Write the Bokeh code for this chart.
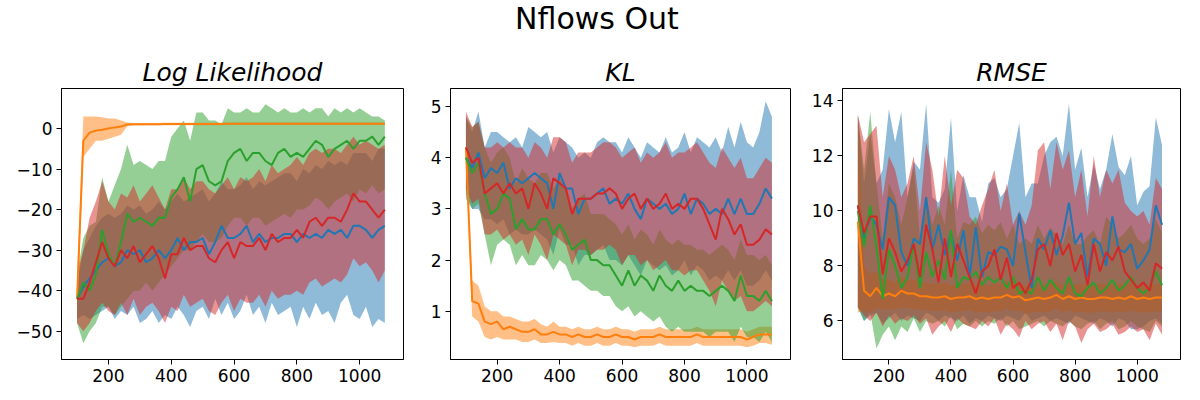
from bokeh.plotting import figure
from bokeh.models import Range1d, FixedTicker, Div
from bokeh.layouts import column, row
from bokeh.embed import file_html
from bokeh.resources import INLINE

# ---------------- data ----------------
x = [100, 120, 140, 160, 180, 200, 220, 240, 260, 280, 300, 320, 340, 360, 380,
     400, 420, 440, 460, 480, 500, 520, 540, 560, 580, 600, 620, 640, 660, 680,
     700, 720, 740, 760, 780, 800, 820, 840, 860, 880, 900, 920, 940, 960, 980,
     1000, 1020, 1040, 1060, 1080]

series_names = ["blue", "orange", "green", "red"]
series_colors = ["#1f77b4", "#ff7f0e", "#2ca02c", "#d62728"]

# Log Likelihood
ll_blue_mean = [-42, -39, -37, -35, -33, -32, -34, -33, -30, -31, -30, -33, -32, -30, -32, -30, -27, -30, -28, -28,
                -27, -31, -28, -24, -27, -27, -26, -24, -28, -26, -28, -27, -27, -26, -26, -28, -26, -27, -26, -27,
                -25, -26, -25, -27, -24, -24, -25, -27, -25, -24]
ll_blue_lo = [-47, -46, -47, -46, -45, -44, -47, -45, -46, -44, -48, -47, -45, -48, -46, -47, -44, -46, -49, -45,
              -44, -47, -42, -46, -43, -47, -45, -41, -46, -44, -48, -43, -46, -45, -44, -49, -44, -47, -43, -46,
              -45, -48, -43, -41, -46, -47, -44, -49, -47, -48]
ll_blue_hi = [-38, -30, -27, -24, -22, -21, -22, -21, -19, -20, -19, -21, -20, -18, -20, -18, -16, -18, -17, -16,
              -15, -18, -16, -13, -15, -15, -14, -12, -15, -13, -14, -13, -12, -11, -11, -13, -10, -11, -9, -10,
              -8, -9, -8, -9, -6, -6, -6, -8, -5, -5]
ll_orange_mean = [-42, -3, -1, -0.5, -0.3, 0, 0.3, 0.5, 1.0, 1.1, 1.1, 1.1, 1.1, 1.1, 1.15, 1.15, 1.15, 1.15, 1.15, 1.15,
                  1.15, 1.15, 1.15, 1.15, 1.2, 1.2, 1.2, 1.2, 1.2, 1.2, 1.2, 1.2, 1.2, 1.2, 1.2, 1.2, 1.2, 1.2, 1.2, 1.2,
                  1.2, 1.2, 1.2, 1.2, 1.2, 1.2, 1.2, 1.2, 1.2, 1.2]
ll_orange_lo = [-48, -7, -5, -3, -3, -2.5, -2, -1.5, 0.6, 0.8, 0.8, 0.8, 0.8, 0.8, 0.85, 0.85, 0.85, 0.85, 0.85, 0.85,
                0.85, 0.85, 0.85, 0.85, 0.9, 0.9, 0.9, 0.9, 0.9, 0.9, 0.9, 0.9, 0.9, 0.9, 0.9, 0.9, 0.9, 0.9, 0.9, 0.9,
                0.9, 0.9, 0.9, 0.9, 0.9, 0.9, 0.9, 0.9, 0.9, 0.9]
ll_orange_hi = [-36, 3, 3, 3, 2.8, 2.5, 2.5, 2.0, 1.5, 1.4, 1.4, 1.4, 1.4, 1.4, 1.45, 1.45, 1.45, 1.45, 1.45, 1.45,
                1.45, 1.45, 1.45, 1.45, 1.5, 1.5, 1.5, 1.5, 1.5, 1.5, 1.5, 1.5, 1.5, 1.5, 1.5, 1.5, 1.5, 1.5, 1.5, 1.5,
                1.5, 1.5, 1.5, 1.5, 1.5, 1.5, 1.5, 1.5, 1.5, 1.5]
ll_green_mean = [-42, -38, -40, -36, -25, -31, -34, -28, -21, -23, -22, -23, -24, -22, -22, -17, -15, -12, -18, -10,
                 -9, -13, -14, -13, -8, -6, -5, -8, -6, -6, -8, -9, -6, -5, -7, -6, -7, -5, -3, -4,
                 -7, -5, -4, -3, -5, -3, -3, -2, -4, -2]
ll_green_lo = [-48, -53, -50, -48, -44, -44, -46, -44, -42, -40, -40, -38, -40, -38, -36, -34, -32, -30, -30, -28,
               -26, -28, -28, -27, -24, -22, -22, -24, -22, -22, -24, -23, -22, -21, -22, -20, -20, -19, -17, -18,
               -20, -18, -17, -16, -18, -15, -16, -14, -16, -15]
ll_green_hi = [-36, -27, -24, -23, -12, -18, -14, -10, -4, -9, -8, -9, -10, -8, -8, -2, 0, 2, -3, 4,
               4, 2, 2, 1, 5, 4, 4, 5, 4, 4, 6, 5, 4, 5, 4, 4, 5, 4, 5, 5,
               3, 5, 4, 5, 4, 5, 4, 3, 3, 2]
ll_red_mean = [-42, -42, -38, -33, -28, -32, -34, -30, -32, -29, -33, -31, -29, -32, -37, -31, -31, -27, -30, -29,
               -29, -32, -33, -30, -28, -32, -28, -29, -29, -27, -30, -26, -28, -27, -27, -25, -27, -23, -22, -24,
               -22, -22, -23, -20, -16, -18, -18, -20, -22, -20]
ll_red_lo = [-48, -50, -48, -45, -43, -45, -46, -43, -46, -42, -46, -44, -43, -45, -48, -44, -45, -41, -44, -43,
             -42, -45, -46, -43, -41, -45, -42, -43, -43, -41, -44, -40, -42, -41, -41, -40, -41, -38, -37, -39,
             -38, -37, -38, -36, -32, -34, -33, -35, -38, -35]
ll_red_hi = [-36, -30, -22, -18, -13, -18, -20, -16, -17, -14, -18, -16, -14, -17, -20, -15, -15, -12, -15, -13,
             -13, -15, -16, -14, -12, -15, -12, -13, -12, -10, -13, -9, -11, -10, -9, -7, -9, -6, -5, -6,
             -5, -5, -6, -4, -2, -4, -3, -4, -5, -4]

# KL
kl_blue_mean = [4.0, 3.8, 4.1, 3.6, 3.8, 3.7, 3.9, 3.4, 3.6, 3.5, 3.6, 3.7, 3.6, 3.5, 3.0, 3.7, 3.4, 3.4, 2.9, 3.2,
                3.2, 3.3, 3.4, 3.1, 3.2, 3.1, 3.3, 3.0, 2.8, 3.2, 3.1, 3.0, 3.1, 2.9, 3.0, 3.3, 2.9, 3.2, 3.1, 2.9,
                3.0, 2.9, 3.2, 2.9, 3.2, 2.9, 2.9, 3.1, 3.4, 3.2]
kl_blue_lo = [3.2, 3.0, 3.0, 2.8, 2.8, 2.7, 2.8, 2.5, 2.6, 2.5, 2.5, 2.6, 2.5, 2.4, 2.1, 2.6, 2.3, 2.3, 1.9, 2.1,
              2.1, 2.2, 2.3, 2.0, 2.0, 1.9, 2.1, 1.9, 1.7, 2.0, 1.9, 1.8, 1.9, 1.7, 1.8, 2.0, 1.7, 1.9, 1.8, 1.6,
              1.7, 1.6, 1.8, 1.6, 1.8, 1.5, 1.5, 1.6, 1.8, 1.6]
kl_blue_hi = [4.8, 4.5, 4.9, 4.2, 4.5, 4.5, 4.4, 4.3, 4.4, 4.2, 4.6, 4.5, 4.4, 4.5, 4.1, 4.4, 4.3, 4.2, 4.0, 4.1,
              4.0, 4.3, 4.4, 4.3, 4.3, 4.1, 4.4, 4.2, 4.0, 4.3, 4.2, 4.1, 4.4, 4.1, 4.2, 4.5, 4.1, 4.4, 4.3, 4.2,
              4.4, 4.1, 4.6, 4.2, 4.7, 4.3, 4.2, 4.5, 5.1, 4.8]
kl_orange_mean = [4.2, 1.2, 1.15, 0.8, 0.75, 0.8, 0.65, 0.7, 0.65, 0.6, 0.6, 0.65, 0.55, 0.55, 0.6, 0.55, 0.55, 0.5, 0.55, 0.5,
                  0.5, 0.55, 0.5, 0.5, 0.55, 0.5, 0.5, 0.45, 0.5, 0.5, 0.5, 0.55, 0.5, 0.5, 0.5, 0.5, 0.5, 0.55, 0.5, 0.5,
                  0.5, 0.5, 0.5, 0.5, 0.5, 0.45, 0.5, 0.55, 0.55, 0.55]
kl_orange_lo = [3.8, 0.9, 0.8, 0.5, 0.45, 0.5, 0.45, 0.45, 0.45, 0.4, 0.4, 0.45, 0.38, 0.38, 0.4, 0.38, 0.38, 0.33, 0.38, 0.33,
                0.33, 0.38, 0.33, 0.33, 0.38, 0.33, 0.33, 0.3, 0.33, 0.33, 0.33, 0.38, 0.33, 0.33, 0.33, 0.33, 0.33, 0.38, 0.33, 0.33,
                0.33, 0.33, 0.33, 0.33, 0.33, 0.3, 0.33, 0.38, 0.38, 0.35]
kl_orange_hi = [4.6, 1.6, 1.5, 1.1, 1.0, 1.0, 0.9, 0.9, 0.85, 0.8, 0.8, 0.85, 0.75, 0.7, 0.8, 0.7, 0.7, 0.65, 0.7, 0.65,
                0.65, 0.7, 0.65, 0.65, 0.7, 0.65, 0.65, 0.6, 0.65, 0.65, 0.65, 0.7, 0.65, 0.65, 0.65, 0.65, 0.65, 0.7, 0.65, 0.65,
                0.65, 0.65, 0.65, 0.65, 0.65, 0.6, 0.65, 0.7, 0.7, 0.7]
kl_green_mean = [4.0, 3.7, 3.9, 3.3, 2.9, 3.0, 3.3, 3.2, 2.6, 2.8, 2.6, 2.6, 2.8, 2.8, 2.5, 2.7, 2.5, 2.2, 2.3, 2.4,
                 2.0, 2.0, 1.9, 1.9, 1.7, 1.5, 1.8, 1.5, 1.7, 1.6, 1.4, 1.7, 1.5, 1.4, 1.6, 1.4, 1.5, 1.4, 1.4, 1.3,
                 1.4, 1.5, 1.4, 1.2, 1.7, 1.3, 1.3, 1.2, 1.4, 1.2]
kl_green_lo = [3.3, 3.0, 3.1, 2.5, 1.9, 2.3, 2.4, 2.3, 1.9, 2.1, 1.9, 1.9, 2.1, 2.0, 1.8, 2.0, 1.9, 1.6, 1.6, 1.5,
               1.4, 1.4, 1.3, 1.3, 1.1, 1.0, 1.1, 0.9, 1.0, 0.9, 0.8, 0.9, 0.7, 0.6, 0.7, 0.6, 0.6, 0.6, 0.6, 0.5,
               0.6, 0.6, 0.6, 0.4, 0.7, 0.5, 0.5, 0.4, 0.6, 0.4]
kl_green_hi = [4.8, 4.6, 4.7, 4.2, 3.9, 4.1, 4.2, 4.0, 3.5, 3.8, 3.6, 3.5, 3.7, 3.7, 3.4, 3.6, 3.4, 3.0, 3.2, 3.3,
               2.9, 2.9, 2.9, 2.8, 2.7, 2.5, 2.7, 2.4, 2.6, 2.5, 2.3, 2.6, 2.4, 2.3, 2.4, 2.3, 2.3, 2.2, 2.2, 2.1,
               2.2, 2.3, 2.2, 2.0, 2.4, 2.1, 2.1, 2.0, 2.1, 1.9]
kl_red_mean = [4.2, 3.9, 4.0, 3.3, 3.4, 3.5, 3.3, 3.5, 3.3, 3.4, 3.0, 3.5, 3.3, 3.0, 3.6, 3.5, 3.4, 2.9, 3.2, 3.2,
               3.2, 3.3, 3.3, 3.4, 3.3, 3.0, 3.2, 3.3, 3.0, 3.2, 3.0, 3.1, 3.3, 3.0, 3.1, 3.0, 3.2, 3.2, 3.0, 2.7,
               2.4, 3.0, 2.8, 2.5, 2.7, 2.3, 2.3, 2.4, 2.6, 2.5]
kl_red_lo = [3.4, 3.1, 3.2, 2.5, 2.5, 2.6, 2.4, 2.5, 2.3, 2.4, 2.1, 2.5, 2.3, 2.0, 2.5, 2.4, 2.3, 1.9, 2.2, 2.2,
             2.1, 2.2, 2.2, 2.3, 2.2, 1.9, 2.1, 2.1, 1.9, 2.0, 1.8, 1.9, 2.0, 1.8, 1.8, 1.7, 1.8, 1.8, 1.6, 1.4,
             1.1, 1.6, 1.4, 1.2, 1.3, 1.0, 1.0, 1.1, 1.2, 1.1]
kl_red_hi = [4.9, 4.6, 4.7, 4.2, 4.2, 4.3, 4.2, 4.3, 4.2, 4.2, 4.0, 4.3, 4.2, 4.0, 4.4, 4.4, 4.3, 3.9, 4.1, 4.1,
             4.1, 4.2, 4.3, 4.3, 4.2, 4.0, 4.1, 4.2, 3.9, 4.1, 4.0, 4.1, 4.3, 4.0, 4.1, 4.1, 4.2, 4.3, 4.1, 3.9,
             3.8, 4.2, 4.0, 3.8, 4.0, 3.6, 3.6, 3.8, 4.0, 3.9]

# RMSE
rm_blue_mean = [10.2, 9.0, 9.8, 9.5, 8.6, 10.5, 10.2, 8.5, 8.0, 9.0, 8.8, 10.5, 8.6, 9.5, 8.4, 9.2, 8.2, 9.3, 7.6, 9.4,
                7.6, 8.5, 8.4, 8.7, 8.6, 8.0, 9.9, 8.5, 7.2, 9.0, 8.6, 9.3, 8.4, 9.1, 10.3, 8.8, 9.2, 7.6, 9.0, 8.8,
                8.0, 9.8, 8.6, 8.5, 8.8, 7.9, 8.2, 8.6, 10.2, 9.5]
rm_blue_lo = [6.5, 6.0, 6.2, 6.3, 5.9, 6.1, 6.3, 6.0, 6.2, 6.1, 6.0, 6.3, 6.2, 6.0, 6.2, 6.1, 6.0, 6.2, 5.9, 6.1,
              6.0, 6.2, 6.1, 6.0, 6.2, 6.1, 6.0, 6.3, 6.0, 6.1, 6.2, 6.0, 6.1, 6.0, 5.9, 6.2, 6.1, 6.0, 5.9, 6.1,
              6.0, 5.8, 6.1, 6.0, 5.7, 5.7, 5.8, 6.0, 6.1, 5.9]
rm_blue_hi = [13.5, 11.0, 12.8, 11.0, 11.5, 13.7, 12.5, 13.6, 10.5, 11.8, 11.5, 13.9, 10.5, 10.3, 10.8, 13.4, 10.0, 11.3, 10.5, 10.5,
              9.6, 11.0, 11.2, 10.5, 10.8, 12.0, 13.2, 10.5, 11.0, 11.0, 12.0, 12.5, 12.7, 12.0, 13.9, 11.5, 12.3, 10.5, 11.7, 10.8,
              11.5, 12.8, 11.6, 11.3, 12.0, 10.2, 10.7, 10.9, 13.4, 12.4]
rm_orange_mean = [9.6, 7.1, 6.9, 7.2, 6.9, 7.0, 6.9, 7.1, 7.0, 7.0, 6.9, 6.9, 6.85, 6.85, 6.9, 6.8, 6.85, 6.85, 6.9, 6.8,
                  6.85, 6.8, 6.85, 6.85, 6.95, 6.85, 6.9, 6.75, 6.8, 6.85, 6.8, 6.85, 6.95, 6.8, 6.9, 6.8, 6.85, 6.8, 6.8, 6.85,
                  6.85, 6.8, 6.85, 6.8, 6.9, 6.8, 6.85, 6.8, 6.85, 6.85]
rm_orange_lo = [6.3, 6.4, 6.3, 6.5, 6.4, 6.45, 6.4, 6.5, 6.45, 6.45, 6.4, 6.4, 6.35, 6.35, 6.4, 6.3, 6.35, 6.35, 6.4, 6.3,
                6.35, 6.3, 6.35, 6.35, 6.45, 6.35, 6.4, 6.25, 6.3, 6.35, 6.3, 6.35, 6.45, 6.3, 6.4, 6.3, 6.35, 6.3, 6.3, 6.35,
                6.35, 6.3, 6.35, 6.3, 6.4, 6.3, 6.35, 6.3, 6.35, 6.35]
rm_orange_hi = [13.5, 8.0, 7.7, 7.8, 7.5, 7.5, 7.4, 7.6, 7.5, 7.5, 7.4, 7.4, 7.35, 7.35, 7.4, 7.3, 7.35, 7.35, 7.4, 7.3,
                7.35, 7.3, 7.35, 7.35, 7.45, 7.35, 7.4, 7.25, 7.3, 7.35, 7.3, 7.35, 7.45, 7.3, 7.4, 7.3, 7.35, 7.3, 7.3, 7.35,
                7.35, 7.3, 7.35, 7.3, 7.4, 7.3, 7.35, 7.3, 7.35, 7.35]
rm_green_mean = [10.0, 8.7, 10.2, 8.7, 6.8, 8.6, 8.0, 7.2, 7.6, 8.8, 7.2, 8.5, 7.6, 8.2, 7.5, 9.3, 7.2, 7.6, 7.5, 7.8,
                 7.3, 7.6, 7.4, 7.6, 7.2, 7.6, 7.0, 7.1, 7.0, 7.6, 7.1, 7.5, 7.2, 7.0, 7.6, 7.0, 6.9, 7.2, 7.4, 7.0,
                 7.2, 7.5, 7.1, 7.3, 7.6, 7.2, 7.0, 7.2, 7.8, 7.3]
rm_green_lo = [6.5, 6.0, 6.3, 5.0, 5.5, 5.8, 5.3, 5.8, 5.6, 6.1, 5.6, 6.0, 5.9, 6.0, 5.8, 6.2, 5.7, 5.9, 5.8, 6.0,
               5.8, 6.0, 5.9, 6.1, 5.8, 6.0, 5.7, 5.8, 5.9, 6.0, 5.8, 6.0, 5.9, 5.8, 6.0, 5.8, 5.7, 5.9, 6.0, 5.7,
               5.9, 6.0, 5.7, 5.8, 6.0, 5.8, 5.7, 5.6, 6.0, 5.8]
rm_green_hi = [13.5, 11.5, 13.6, 11.0, 9.0, 11.0, 10.5, 9.5, 10.5, 11.6, 9.0, 10.5, 9.5, 10.2, 9.5, 11.5, 9.0, 9.6, 9.5, 9.8,
               9.2, 9.5, 9.3, 9.6, 9.0, 9.5, 8.8, 9.0, 8.8, 9.5, 9.0, 9.4, 9.1, 8.8, 9.5, 8.8, 8.8, 9.1, 9.3, 8.8,
               9.8, 9.5, 9.0, 9.2, 9.5, 9.0, 8.8, 9.0, 9.7, 9.2]
rm_red_mean = [10.2, 9.2, 9.8, 9.8, 7.7, 9.0, 8.5, 7.8, 8.2, 8.8, 7.6, 9.5, 8.6, 7.4, 9.0, 7.6, 8.8, 8.2, 7.6, 7.0,
               7.8, 8.0, 8.6, 7.5, 8.3, 7.2, 7.4, 7.0, 7.5, 8.6, 8.8, 8.0, 9.2, 8.4, 8.8, 7.8, 8.4, 7.3, 8.8, 7.8,
               8.5, 8.2, 8.7, 7.8, 7.5, 7.2, 7.4, 7.1, 8.1, 7.9]
rm_red_lo = [6.5, 6.2, 6.0, 6.3, 5.8, 6.2, 5.9, 6.1, 6.0, 6.2, 5.9, 6.1, 5.5, 5.8, 6.0, 5.6, 6.1, 5.9, 5.8, 5.7,
             6.0, 5.8, 6.1, 5.5, 5.9, 5.7, 5.4, 6.0, 5.7, 5.9, 6.0, 5.6, 5.9, 5.3, 6.0, 5.8, 5.2, 5.7, 5.9, 5.6,
             5.7, 5.9, 5.5, 5.6, 5.8, 5.6, 5.7, 5.3, 5.9, 5.5]
rm_red_hi = [13.5, 12.5, 12.8, 13.1, 10.5, 12.0, 11.5, 10.5, 11.0, 12.0, 10.0, 12.5, 11.5, 9.8, 12.0, 10.2, 11.5, 11.2, 9.8, 9.5,
             10.2, 10.8, 11.5, 10.0, 11.0, 9.5, 10.0, 9.5, 10.2, 12.2, 12.5, 10.8, 12.5, 11.5, 12.2, 10.5, 11.5, 9.8, 12.0, 10.5,
             11.5, 11.0, 11.5, 10.3, 10.0, 9.8, 10.0, 9.5, 11.2, 10.8]

x_ticks = [200, 400, 600, 800, 1000]
ll_ticks = [-50, -40, -30, -20, -10, 0]
kl_ticks = [1, 2, 3, 4, 5]
rm_ticks = [6, 8, 10, 12, 14]

FONT = "DejaVu Sans"
FRAME_H = 271
TOP = 40
BOTTOM = 35


def lbl(v):
    return ("\u2212" + str(abs(v))) if v < 0 else str(v)


def make_panel(title, yr, yticks, left, right, fw, data):
    p = figure(width=left + fw + right, height=TOP + FRAME_H + BOTTOM,
               x_range=Range1d(50.5, 1139.5), y_range=Range1d(*yr),
               output_backend="svg", toolbar_location=None,
               min_border_left=left, min_border_right=right,
               min_border_top=TOP, min_border_bottom=BOTTOM,
               background_fill_color="white", border_fill_color="white")
    p.title.text = title
    p.title.text_font = FONT
    p.title.text_font_size = "25px"
    p.title.text_font_style = "italic"
    p.title.text_color = "black"
    p.title.align = "center"
    p.title.standoff = 4
    p.grid.visible = False
    p.outline_line_color = "black"
    p.outline_line_width = 1
    for axes in (p.xaxis, p.yaxis):
        axes.minor_tick_line_color = None
        axes.major_tick_in = 0
        axes.major_tick_out = 5
        axes.major_tick_line_color = "black"
        axes.axis_line_color = "black"
        axes.major_label_text_font = FONT
        axes.major_label_text_font_size = "17px"
        axes.major_label_text_color = "black"
        axes.major_label_standoff = 4
    p.xaxis.ticker = FixedTicker(ticks=x_ticks)
    p.yaxis.ticker = FixedTicker(ticks=yticks)
    p.yaxis.major_label_overrides = {v: lbl(v) for v in yticks}
    # bands first, then lines (as in the reference)
    for (mean, lo, hi), color in zip(data, series_colors):
        p.varea(x=x, y1=lo, y2=hi, fill_color=color, fill_alpha=0.5)
    for (mean, lo, hi), color in zip(data, series_colors):
        p.line(x=x, y=mean, line_color=color, line_width=2)
    return p


p1 = make_panel("Log Likelihood", (-57.0, 9.9), ll_ticks, 61, 5, 342,
                [(ll_blue_mean, ll_blue_lo, ll_blue_hi), (ll_orange_mean, ll_orange_lo, ll_orange_hi),
                 (ll_green_mean, ll_green_lo, ll_green_hi), (ll_red_mean, ll_red_lo, ll_red_hi)])
p2 = make_panel("KL", (0.06, 5.35), kl_ticks, 42, 5, 340,
                [(kl_blue_mean, kl_blue_lo, kl_blue_hi), (kl_orange_mean, kl_orange_lo, kl_orange_hi),
                 (kl_green_mean, kl_green_lo, kl_green_hi), (kl_red_mean, kl_red_lo, kl_red_hi)])
p3 = make_panel("RMSE", (4.6, 14.45), rm_ticks, 47, 4, 338,
                [(rm_blue_mean, rm_blue_lo, rm_blue_hi), (rm_orange_mean, rm_orange_lo, rm_orange_hi),
                 (rm_green_mean, rm_green_lo, rm_green_hi), (rm_red_mean, rm_red_lo, rm_red_hi)])

sup = Div(text='<div style="width:1184px;text-align:center;font-family:\'DejaVu Sans\';'
               'font-size:30px;line-height:27px;color:black;">Nflows Out</div>',
          width=1184, height=38)

layout = column(sup, row(p1, p2, p3, spacing=0), spacing=0)
open("out.html", "w").write(file_html(layout, INLINE))
